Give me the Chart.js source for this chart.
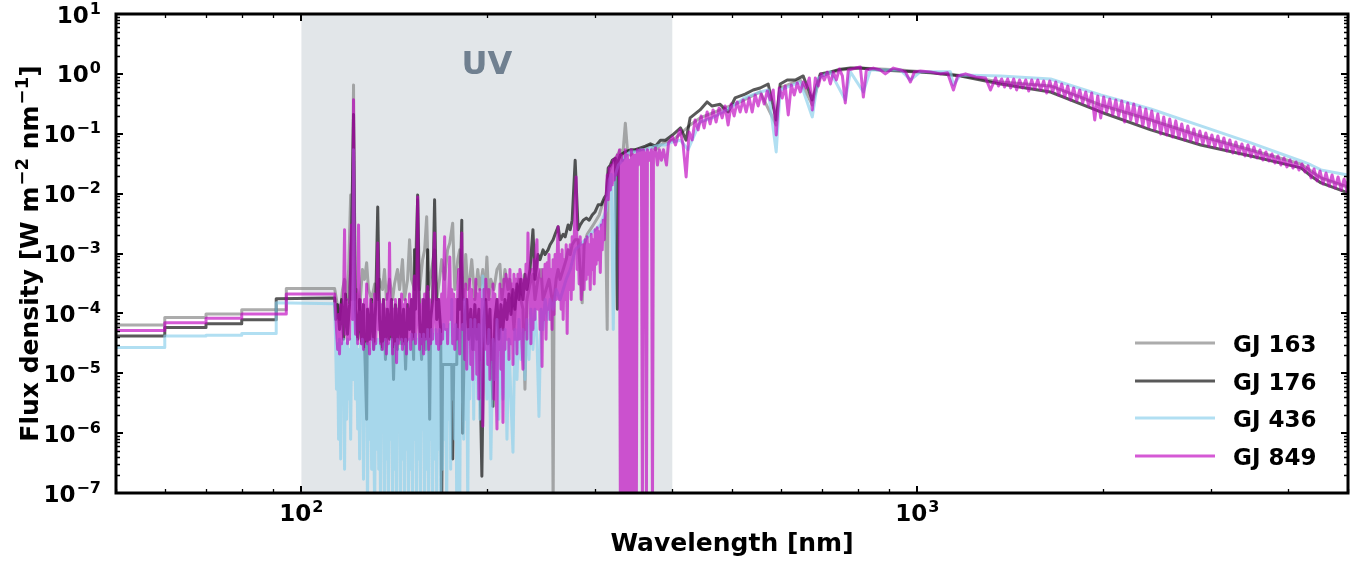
<!DOCTYPE html>
<html><head><meta charset="utf-8">
<script src="https://cdn.jsdelivr.net/npm/chart.js@4/dist/chart.umd.min.js"></script>
<style>html,body{margin:0;padding:0;background:#fff;}#wrap{width:1367px;height:563px;}</style>
</head><body><div id="wrap"><canvas id="c" width="1367" height="563"></canvas></div>
<script>
const seriesNames = ['GJ 163','GJ 176','GJ 436','GJ 849'];
const seriesColors = ['rgba(128,128,128,0.65)','rgba(0,0,0,0.65)','rgba(135,206,235,0.65)','rgba(191,0,191,0.65)'];
const xTicks = [100, 1000];
const yTicks = [1e-7,1e-6,1e-5,1e-4,1e-3,1e-2,1e-1,1e0,1e1];
const uvBand = [100, 400];
const uvLabel = 'UV';
const xTitle = 'Wavelength [nm]';
const yTitleParts = [['Flux density [W m',0],['\u22122',1],[' nm',0],['\u22121',1],[']',0]];

// [wavelength nm, flux W m^-2 nm^-1]
const gj163 = [
[50,6.4e-5],[60,6.4e-5],[60,8.5e-5],[70,8.5e-5],[70,9.8e-5],[80,9.8e-5],[80,1.15e-4],[94.5,1.15e-4],[94.5,2.6e-4],[113.2,2.6e-4],
[114.0,1.7e-4],[115.3,7.9e-5],[116.6,2.5e-4],[117.5,3.7e-4],[118.4,1.7e-4],[119.3,5.4e-4],[120.2,9.5e-3],[120.6,1.7e-4],[121.5,0.65],[122.0,1.7e-4],[122.9,2.5e-4],[124.3,1.17e-4],[125.6,5.4e-4],[126.6,3.7e-4],[127.6,7.0e-4],[128.5,2.5e-4],[130.0,1.7e-4],[131.5,3.1e-4],[133.0,1.7e-4],[133.9,3.7e-4],[135.4,2.5e-4],[136.4,5.4e-4],[137.4,1.7e-4],[139.0,3.7e-4],[140.6,1.7e-4],[141.6,3.1e-4],[143.2,5.4e-4],[144.3,2.5e-4],[145.9,7.9e-4],[147.0,1.7e-4],[148.7,3.7e-4],[149.8,1.7e-3],[150.9,3.7e-4],[152.6,2.5e-4],[154.4,7.9e-3],[155.5,2.5e-4],[157.3,7.9e-4],[158.5,1.15e-3],[159.7,4.1e-3],[160.9,2.5e-4],[162.7,5.4e-4],[164.5,1.15e-3],[165.8,1.7e-4],[167.6,3.7e-4],[168.9,7.9e-4],[170.8,3.7e-4],[172.7,1.15e-3],[174.1,1.5e-3],[176.0,3.2e-3],[177.4,2.5e-4],[179.4,7.9e-4],[180.7,1.15e-3],[182.1,3.7e-4],[183.4,1.7e-4],[184.8,9.6e-4],[186.2,2.5e-4],[187.6,3.7e-4],[189.0,7.9e-4],[191.2,1.7e-4],[193.3,5.4e-4],[194.8,2.5e-4],[197.0,5.4e-4],[198.5,1.7e-4],[200.0,8.7e-4],[201.5,1.7e-4],[203.0,3.7e-4],[205.3,2.5e-4],[207.7,5.4e-4],[210.0,6.6e-4],[211.6,1.7e-4],[214.0,5.4e-4],[216.4,2.5e-4],[218.0,3.7e-4],[219.7,1.7e-4],[221.3,5.4e-5],[222.9,1.7e-4],[225.5,3.7e-4],[227.1,1.7e-4],[228.9,1.17e-4],[230.6,5.4e-6],[232.3,1.7e-4],[235.0,3.1e-4],[237.6,4.5e-4],[239.4,1.7e-4],[242.1,3.7e-4],[244.9,5.4e-4],[246.7,1.7e-4],[249.5,2.5e-4],[252.3,3.7e-4],[255.2,1.7e-4],[256.2,5e-8],[257.1,1.7e-4],[259.1,3.7e-4],[261.0,5.4e-4],[263.0,3.7e-4],[266.0,5.4e-4],[269.0,7.9e-4],[271.0,1.15e-3],[273.1,9.6e-4],[275.1,1.4e-3],[278.2,1.7e-3],[281.3,1.7e-3],[283.5,5.4e-4],[285.6,1.5e-4],[287.7,1.4e-3],[291.0,2.1e-3],[294.3,2.5e-3],[297.6,3.0e-3],[300.9,3.6e-3],[304.4,4.4e-3],[307.8,6.5e-3],[311.3,7.9e-3],[313.6,5.4e-5],[314.8,0.021],[318.4,0.030],[322.0,0.036],[325.7,0.044],[329.4,0.054],[331.9,0.036],[335.6,0.15],[338.2,0.054],[342.0,0.044],[348.4,0.054],[355.1,0.054],[361.8,0.058],[368.6,0.065],[375.6,0.054],[382.7,0.065],[389.9,0.073],[400.3,0.078],[412.5,0.10],
[427.5,0.140],[443.7,0.184],[478.3,0.250],[515.4,0.34],[555.5,0.498],[589.8,0.140],[598.7,0.581],[645.3,0.791],[675.0,0.302],[695.5,0.923],[749.8,1.16],[807.8,1.25],[938.4,1.16],[1131,1.00],[1365,0.732],[1645,0.628],[1984,0.302],[2392,0.170],[2884,0.0919],[3478,0.0536],[4194,0.0313],[4520,0.0183],[5000,0.0129]
];

const gj176 = [
[50,4.2e-5],[60,4.2e-5],[60,5.8e-5],[70,5.8e-5],[70,6.7e-5],[80,6.7e-5],[80,7.8e-5],[91,7.8e-5],[91,1.75e-4],[113.2,1.8e-4],
[113.6,7.9e-5],[114.5,1.4e-4],[115.3,5.4e-5],[116.2,1.7e-4],[117.1,3.7e-5],[117.9,2.1e-4],[118.8,4.5e-5],[119.7,1.4e-4],[120.6,1.7e-3],[121.5,0.21],[122.4,1.17e-4],[123.4,3.7e-5],[124.3,1.7e-4],[125.2,3.1e-5],[126.1,1.4e-4],[127.1,7.9e-6],[127.6,1.7e-6],[128.0,1.17e-4],[129.0,3.7e-5],[130.0,1.7e-4],[131.0,2.5e-5],[132.0,1.4e-4],[133.0,6.0e-3],[133.9,7.9e-5],[134.9,2.5e-5],[135.9,1.7e-4],[136.9,1.7e-5],[137.9,1.17e-4],[139.0,3.7e-5],[140.0,1.7e-4],[141.1,7.9e-6],[142.1,1.4e-4],[143.2,2.5e-5],[144.3,1.7e-4],[145.4,3.1e-5],[146.5,1.17e-4],[147.6,1.17e-5],[148.7,1.4e-4],[149.8,5.4e-5],[150.9,1.7e-4],[152.1,1.7e-5],[152.6,1.15e-3],[153.2,1.17e-4],[154.4,9.5e-3],[155.5,7.9e-5],[156.7,1.7e-5],[157.9,1.7e-4],[159.1,2.5e-5],[160.3,1.15e-3],[160.9,5.4e-5],[161.5,1.7e-6],[162.1,7.9e-5],[163.3,1.7e-4],[164.5,7.9e-3],[165.8,7.9e-5],[167.0,1.7e-4],[168.3,5.4e-5],[168.9,5e-8],[169.5,1.4e-5],[175.4,1.4e-5],[176.0,3.7e-7],[176.7,1.4e-5],[178.7,1.4e-5],[179.4,1.7e-4],[180.7,1.17e-4],[182.1,3.6e-3],[182.7,1.0e-6],[184.1,7.9e-5],[185.5,1.7e-4],[186.9,3.7e-5],[188.3,1.17e-4],[189.7,2.5e-5],[191.2,1.4e-4],[192.6,3.7e-5],[194.1,1.17e-4],[196.3,1.9e-7],[197.8,7.9e-5],[199.2,1.7e-4],[200.7,3.1e-5],[202.3,1.17e-4],[204.6,2.8e-6],[206.1,7.9e-5],[207.7,1.7e-4],[209.2,3.7e-5],[210.8,1.4e-4],[212.4,5.4e-5],[214.0,1.7e-4],[215.6,7.9e-5],[217.2,2.1e-4],[218.8,9.6e-5],[220.5,2.5e-4],[222.1,1.17e-4],[223.8,3.1e-4],[225.5,1.7e-4],[227.1,3.7e-4],[228.9,1.7e-4],[230.6,4.5e-4],[232.3,2.5e-4],[235.0,5.4e-4],[237.6,2.5e-3],[239.4,3.7e-4],[242.1,9.6e-4],[244.0,7.9e-4],[246.7,1.15e-3],[248.6,9.6e-4],[251.4,1.15e-3],[253.3,1.4e-3],[256.2,1.7e-3],[258.1,2.1e-3],[261.0,2.8e-3],[263.0,1.7e-3],[266.0,2.1e-3],[268.0,1.9e-3],[271.0,3.0e-3],[273.1,2.5e-3],[275.1,3.6e-3],[278.2,0.036],[281.3,2.5e-3],[283.5,3.0e-3],[286.7,3.6e-3],[289.9,3.9e-3],[293.2,3.6e-3],[296.5,4.4e-3],[299.8,5.0e-3],[303.2,6.5e-3],[306.7,6.5e-3],[310.2,8.5e-3],[312.5,9.5e-3],[314.8,0.027],[317.3,0.030],[319.6,0.036],[323.3,0.039],[325.7,1.17e-4],[326.9,0.036],[329.4,0.044],[335.6,0.050],[342.0,0.054],[348.4,0.054],[355.1,0.058],[361.8,0.062],[368.6,0.068],[375.6,0.062],[382.7,0.078],[389.9,0.078],[400.3,0.095],[412.5,0.125],
[421.1,0.078],[427.5,0.184],[443.7,0.250],[455.5,0.34],[464.2,0.29],[478.3,0.31],[492.8,0.231],[505.8,0.396],[525.2,0.46],[541.1,0.538],[555.5,0.581],[572.4,0.678],[589.8,0.170],[598.7,0.678],[614.6,0.791],[633.3,0.791],[652.5,0.923],[675.0,0.367],[695.5,1.0],[722.2,1.08],[749.8,1.2],[778.3,1.25],[807.8,1.25],[870.7,1.16],[938.4,1.12],[1050,1.04],[1175,0.923],[1365,0.678],[1645,0.498],[1984,0.231],[2392,0.116],[2884,0.065],[3478,0.0426],[4194,0.0269],[4354,0.0197],[4520,0.0151],[5000,0.0103]
];

const gj436 = [
[50,2.7e-5],[60,2.7e-5],[60,4.2e-5],[70,4.2e-5],[70,4.3e-5],[80,4.3e-5],[80,4.6e-5],[91,4.6e-5],[91,1.5e-4],[113.2,1.45e-4],
[113.6,3.7e-5],[114.0,5.4e-6],[114.5,3.1e-5],[114.9,7.9e-7],[115.3,3.7e-5],[115.8,3.7e-7],[116.2,3.1e-5],[116.6,7.9e-6],[117.1,3.7e-5],[117.5,2.5e-7],[117.9,3.1e-5],[118.4,1.7e-6],[118.8,3.7e-5],[119.3,3.7e-6],[119.7,2.5e-5],[120.2,7.9e-7],[120.6,3.7e-5],[121.1,7.9e-6],[121.5,0.054],[122.0,3.1e-5],[122.4,3.7e-6],[122.9,3.7e-5],[123.4,1.17e-6],[123.8,2.5e-5],[124.3,3.7e-7],[124.7,3.1e-5],[125.2,2.5e-6],[125.6,3.7e-5],[126.1,1.7e-7],[126.6,2.5e-5],[127.1,1.7e-6],[127.6,3.1e-5],[128.0,5e-8],[128.5,3.1e-5],[129.0,7.9e-7],[129.5,2.5e-5],[130.0,2.5e-7],[130.5,3.7e-5],[131.0,1.17e-6],[131.5,5e-8],[132.0,3.1e-5],[132.5,5.4e-7],[133.0,3.7e-5],[133.5,2.5e-7],[133.9,3.1e-5],[134.4,5e-8],[134.9,2.5e-5],[135.4,1.17e-6],[135.9,3.1e-5],[136.4,5e-8],[136.9,3.7e-5],[137.4,3.7e-7],[137.9,2.5e-5],[138.4,5e-8],[139.0,3.1e-5],[139.5,7.9e-7],[140.0,3.7e-5],[140.6,5e-8],[141.1,2.5e-5],[141.6,2.5e-7],[142.1,3.1e-5],[142.7,5e-8],[143.2,3.7e-5],[143.7,1.17e-6],[144.3,2.5e-5],[144.8,5e-8],[145.4,3.7e-5],[145.9,3.7e-7],[146.5,3.1e-5],[147.0,5e-8],[147.6,3.7e-5],[148.1,5.4e-7],[148.7,3.1e-5],[149.2,5e-8],[149.8,3.7e-5],[150.4,2.5e-7],[150.9,4.5e-5],[151.5,5e-8],[152.1,3.7e-5],[152.6,7.9e-7],[153.2,4.5e-5],[153.8,5e-8],[154.4,3.7e-5],[154.9,3.7e-7],[155.5,4.5e-5],[156.1,5e-8],[156.7,3.7e-5],[157.3,1.17e-6],[157.9,4.5e-5],[158.5,5e-8],[159.1,3.7e-5],[159.7,2.5e-7],[160.3,5.4e-5],[160.9,5e-8],[161.5,3.7e-5],[162.1,7.9e-7],[162.7,5.4e-5],[163.3,5e-8],[163.9,4.5e-5],[164.5,3.7e-7],[165.2,5.4e-5],[165.8,5e-8],[166.4,4.5e-5],[167.0,5.4e-7],[167.6,5.4e-5],[168.3,5e-8],[168.9,4.5e-5],[169.5,2.5e-7],[170.2,6.5e-5],[170.8,7.9e-7],[171.4,5.4e-5],[172.1,5e-8],[172.7,5.4e-5],[173.4,1.7e-6],[174.1,6.5e-5],[174.7,2.5e-7],[175.4,1.7e-4],[176.0,3.7e-6],[176.7,5.4e-5],[177.4,7.9e-7],[178.0,6.5e-5],[178.7,5e-8],[179.4,5.4e-5],[180.0,1.7e-6],[180.7,5e-8],[181.4,5.4e-5],[182.1,3.7e-6],[182.7,6.5e-5],[183.4,7.9e-7],[184.1,1.7e-4],[184.8,1.7e-6],[185.5,5.4e-5],[186.2,5e-8],[186.9,5.4e-5],[187.6,3.7e-6],[188.3,7.9e-5],[189.0,7.9e-6],[189.7,5.4e-5],[190.4,1.7e-6],[191.2,7.9e-5],[191.9,7.9e-6],[192.6,5.4e-5],[193.3,3.7e-6],[194.1,6.5e-5],[194.8,1.7e-6],[196.3,5.4e-5],[197.0,4.2e-4],[198.5,3.7e-5],[200.0,3.7e-6],[201.5,5.4e-5],[203.0,3.7e-7],[204.6,3.7e-5],[206.1,7.9e-6],[207.7,7.9e-5],[209.2,1.7e-6],[210.8,5.4e-5],[212.4,3.7e-6],[214.0,5.4e-5],[215.6,7.9e-7],[217.2,3.7e-5],[218.8,3.7e-6],[220.5,4.8e-7],[222.1,5.4e-5],[223.8,7.9e-6],[225.5,7.9e-5],[227.1,1.7e-5],[228.9,5.4e-5],[230.6,7.9e-6],[232.3,7.9e-5],[234.1,1.7e-5],[235.8,1.17e-4],[237.6,2.5e-5],[239.4,1.17e-4],[241.2,3.7e-5],[243.0,1.9e-6],[244.9,1.17e-4],[246.7,5.4e-5],[248.6,1.7e-4],[251.4,7.9e-5],[253.3,1.7e-4],[256.2,1.17e-4],[259.1,2.5e-4],[263.0,1.7e-4],[266.0,2.5e-4],[269.0,3.7e-4],[273.1,5.4e-4],[278.2,1.15e-3],[283.5,1.4e-3],[288.8,1.7e-3],[294.3,2.1e-3],[299.8,2.5e-3],[305.6,3.0e-3],[310.2,4.4e-3],[312.5,5.3e-3],[316.0,0.017],[318.4,0.021],[320.8,5.4e-5],[323.3,0.021],[326.9,0.030],[331.9,0.036],[336.9,0.044],[342.0,0.050],[348.4,0.050],[355.1,0.054],[361.8,0.054],[368.6,0.058],[375.6,0.062],[382.7,0.065],[389.9,0.065],[400.3,0.073],[412.5,0.078],
[424.3,0.054],[443.7,0.157],[464.2,0.184],[496.5,0.270],[523.2,0.396],[555.5,0.498],[572.4,0.538],[589.8,0.0497],[598.7,0.538],[621.6,0.628],[645.3,0.732],[675.0,0.191],[690.2,0.854],[722.2,1.08],[763.6,0.367],[778.3,1.08],[817.0,0.498],[838.7,1.16],[938.4,1.16],[974.1,0.791],[1011,1.08],[1131,1.08],[1144,0.653],[1175,0.96],[1365,0.923],[1645,0.822],[1984,0.444],[2392,0.259],[2884,0.135],[3478,0.0702],[4194,0.0351],[4354,0.0301],[4520,0.0249],[5000,0.0205]
];

const gj849 = [
[50,5.2e-5],[60,5.2e-5],[60,7.0e-5],[70,7.0e-5],[70,8.3e-5],[80,8.3e-5],[80,9.8e-5],[94.5,9.8e-5],[94.5,2.1e-4],[113.2,2.1e-4],
[113.6,1.17e-4],[114.0,5.4e-5],[114.5,2.5e-5],[114.9,9.6e-5],[115.3,2.1e-5],[115.8,1.4e-4],[116.2,3.1e-5],[116.6,7.9e-5],[117.1,2.5e-4],[117.5,2.5e-3],[117.9,4.5e-5],[118.4,1.7e-4],[118.8,3.1e-5],[119.3,1.4e-4],[119.7,3.7e-5],[120.2,1.15e-3],[120.6,3.0e-3],[121.1,7.9e-5],[121.5,0.37],[122.0,1.7e-4],[122.4,4.5e-5],[122.9,2.1e-4],[123.4,3.1e-5],[123.8,3.0e-3],[124.3,5.4e-5],[124.7,1.7e-4],[125.2,3.1e-5],[125.6,1.4e-4],[126.1,2.5e-5],[126.6,1.7e-4],[127.1,3.7e-5],[127.6,3.1e-4],[128.0,3.1e-5],[128.5,1.17e-4],[129.0,2.1e-5],[129.5,1.7e-4],[130.0,3.7e-5],[130.5,1.4e-4],[131.0,2.5e-5],[131.5,2.1e-4],[132.0,3.1e-5],[132.5,1.17e-4],[133.0,1.5e-3],[133.5,5.4e-5],[133.9,1.7e-4],[134.4,3.1e-5],[134.9,1.4e-4],[135.4,2.5e-5],[135.9,1.7e-4],[136.4,3.7e-5],[136.9,1.17e-4],[137.4,2.1e-5],[137.9,2.1e-4],[138.4,3.1e-5],[139.0,1.5e-3],[139.5,4.5e-5],[140.0,1.7e-4],[140.6,2.1e-5],[141.1,1.17e-4],[141.6,3.1e-5],[142.1,1.7e-4],[142.7,1.5e-5],[143.2,1.17e-4],[143.7,3.1e-5],[144.3,1.7e-4],[144.8,3.7e-5],[145.4,2.1e-4],[145.9,2.5e-5],[146.5,1.4e-4],[147.0,3.1e-5],[147.6,1.7e-4],[148.1,2.1e-5],[148.7,1.17e-4],[149.2,3.7e-5],[149.8,2.1e-4],[150.4,2.5e-5],[150.9,1.7e-4],[151.5,3.7e-5],[152.1,2.5e-4],[152.6,4.2e-4],[153.2,3.1e-5],[153.8,1.4e-4],[154.4,8.8e-3],[154.9,1.7e-4],[155.5,2.5e-5],[156.1,1.4e-4],[156.7,3.1e-5],[157.3,1.7e-4],[157.9,2.1e-5],[158.5,2.1e-4],[159.1,3.7e-5],[159.7,1.7e-4],[160.3,2.8e-4],[160.9,2.5e-5],[161.5,1.7e-4],[162.1,3.1e-5],[162.7,1.4e-4],[163.3,3.7e-5],[163.9,7.9e-4],[164.5,2.2e-3],[165.2,7.9e-5],[165.8,3.1e-5],[166.4,1.7e-4],[167.0,2.5e-5],[167.6,1.7e-4],[168.3,3.1e-5],[168.9,2.1e-4],[169.5,3.7e-5],[170.2,4.5e-4],[170.8,1.9e-3],[171.4,5.4e-5],[172.1,1.7e-4],[172.7,3.1e-5],[173.4,2.5e-4],[174.1,8.7e-4],[174.7,7.9e-5],[175.4,2.5e-4],[176.0,3.1e-5],[176.7,2.1e-4],[177.4,2.5e-5],[178.0,1.7e-4],[178.7,3.7e-5],[179.4,2.5e-4],[180.0,5.4e-4],[180.7,2.1e-5],[181.4,3.7e-4],[182.1,2.2e-3],[182.7,5.4e-5],[183.4,2.5e-4],[184.1,1.7e-5],[184.8,3.1e-4],[185.5,1.17e-5],[186.2,1.7e-4],[186.9,3.7e-5],[187.6,3.7e-4],[188.3,1.4e-5],[189.0,2.5e-4],[189.7,7.9e-6],[190.4,1.7e-4],[191.2,2.5e-5],[191.9,3.7e-4],[192.6,9.6e-6],[193.3,2.1e-4],[194.1,3.7e-6],[194.8,2.5e-4],[195.5,1.7e-5],[196.3,1.7e-4],[197.0,1.3e-6],[197.8,2.5e-4],[198.5,2.5e-5],[199.2,3.7e-4],[200.0,1.5e-4],[200.7,1.4e-5],[201.5,2.5e-4],[202.3,7.9e-6],[203.0,1.7e-4],[203.8,1.7e-5],[204.6,3.1e-4],[205.3,3.7e-6],[206.1,2.1e-4],[206.9,7.9e-6],[207.7,1.17e-6],[208.4,1.7e-4],[209.2,2.5e-5],[210.0,3.1e-4],[210.8,1.17e-5],[211.6,2.5e-4],[212.4,1.5e-6],[213.2,3.7e-4],[214.0,2.5e-5],[214.8,4.5e-4],[215.6,3.7e-5],[216.4,3.7e-4],[217.2,1.7e-5],[218.0,5.4e-4],[218.8,3.1e-5],[219.7,3.1e-4],[220.5,1.4e-5],[221.3,4.5e-4],[222.1,3.7e-5],[222.9,3.7e-4],[223.8,2.1e-5],[224.6,4.5e-4],[225.5,3.7e-5],[226.3,5.4e-4],[227.1,4.2e-4],[228.0,3.1e-5],[228.9,1.17e-5],[229.7,3.7e-4],[230.6,5.4e-5],[231.5,6.6e-4],[232.3,3.7e-5],[233.2,2.2e-3],[234.1,1.7e-4],[235.0,4.5e-4],[235.8,3.1e-5],[236.7,5.4e-4],[237.6,5.4e-5],[238.5,7.9e-4],[239.4,7.9e-5],[240.3,1.15e-3],[241.2,1.7e-3],[242.1,1.17e-4],[243.0,5.4e-4],[244.0,5.4e-5],[244.9,3.7e-4],[245.8,1.3e-5],[246.7,5.4e-4],[247.6,7.9e-5],[248.6,6.6e-4],[249.5,3.7e-5],[250.5,7.0e-4],[251.4,1.17e-4],[252.3,9.6e-4],[253.3,7.9e-5],[254.2,5.4e-4],[255.2,5.4e-5],[256.2,7.9e-4],[257.1,9.6e-5],[258.1,9.6e-4],[259.1,1.7e-4],[260.0,7.9e-4],[261.0,2.8e-3],[262.0,1.7e-4],[263.0,9.6e-4],[264.0,1.17e-4],[265.0,1.15e-3],[266.0,7.9e-5],[267.0,7.9e-4],[268.0,1.7e-4],[269.0,1.4e-3],[270.0,4.6e-5],[271.0,1.15e-3],[272.1,2.5e-4],[273.1,1.4e-3],[274.1,1.7e-4],[275.1,1.9e-3],[276.2,2.5e-4],[277.2,1.7e-3],[278.2,7.9e-3],[279.2,0.019],[280.3,5.4e-4],[281.3,1.7e-3],[282.4,3.1e-4],[283.5,1.9e-3],[284.5,1.7e-4],[285.6,3.3e-4],[286.7,1.4e-3],[287.7,2.5e-4],[288.8,1.7e-3],[289.9,3.7e-4],[291.0,1.9e-3],[292.1,4.5e-4],[293.2,1.4e-3],[294.3,2.5e-4],[295.4,2.1e-3],[296.5,5.4e-4],[297.6,1.7e-3],[298.7,3.1e-4],[299.8,2.5e-3],[300.9,6.6e-4],[302.1,2.7e-3],[303.2,7.9e-4],[304.4,2.3e-3],[305.6,4.8e-4],[306.7,3.0e-3],[307.8,1.15e-3],[309.0,3.6e-3],[310.2,1.7e-3],[311.3,4.8e-3],[312.5,9.5e-3],[313.6,0.0205],[314.8,7.9e-3],[316.0,0.0268],[317.3,0.0115],[318.4,0.0301],[319.6,0.0140],[320.8,0.0365],[322.0,0.0169],[323.3,0.0394],[324.5,0.0205],[325.7,0.0443],[326.9,0.0248],[328.2,0.0536],
[329.4,5e-8],[330.7,0.044],[331.9,5e-8],[333.2,0.036],[334.4,5e-8],[335.6,0.054],[336.9,5e-8],[338.2,0.044],[339.4,5e-8],[340.7,0.036],[342.0,5e-8],[343.3,0.054],[344.5,5e-8],[345.8,0.044],[347.1,5e-8],[348.4,0.044],[349.7,5e-8],[351.0,0.054],[352.3,0.030],[355.1,0.054],[356.4,0.036],[357.7,5e-8],[359.0,0.054],[361.8,0.044],[363.1,5e-8],[364.5,0.054],[367.2,0.036],[370.0,0.054],[371.4,5e-8],[372.8,0.044],[375.6,0.058],[378.4,0.030],[381.2,0.054],[384.1,0.036],[387.0,0.054],[391.4,0.030],[394.3,0.070],[397.3,0.078],[400.3,0.088],[404.8,0.065],[408.7,0.095],
[411.8,0.116],[416.5,0.0650],[421.2,0.0190],[425.9,0.107],[430.7,0.0788],[435.6,0.170],[440.5,0.116],[445.5,0.198],[450.5,0.125],[455.6,0.231],[460.7,0.146],[465.9,0.250],[471.2,0.157],[476.5,0.270],[481.9,0.184],[487.3,0.291],[492.8,0.140],[498.4,0.314],[504.0,0.198],[509.7,0.340],[515.5,0.231],[521.3,0.367],[527.2,0.231],[533.2,0.396],[539.2,0.231],[545.3,0.444],[551.4,0.291],[557.7,0.462],[564.0,0.314],[570.3,0.518],[576.8,0.367],[583.3,0.539],[589.9,0.0955],[596.6,0.582],[603.3,0.396],[610.1,0.628],[617.0,0.206],[624.0,0.653],[631.1,0.444],[638.2,0.705],[645.4,0.499],[652.7,0.732],[660.1,0.582],[667.5,0.854],[675.1,0.250],[682.7,0.854],[690.4,0.628],[698.2,1.00],[706.1,0.791],[714.1,1.07],[722.2,0.678],[730.3,1.07],[738.6,0.791],[746.9,1.21],[755.4,0.923],
[763.6,0.327],[772.3,1.16],[792.9,1.25],[807.8,1.30],[817.0,0.411],[826.2,1.16],[848.1,1.25],[870.7,1.16],[887.0,1.00],[914.1,1.25],[938.4,1.16],[956.1,1.08],[974.1,0.732],[988.8,1.08],[1011,1.12],[1050,1.08],[1090,1.00],[1119,1.04],[1144,0.538],[1162,0.923],[1197,1.00],[1243,0.888],[1290,0.854],[1314,0.538],
[1339,0.854],[1354,0.628],[1370,0.822],[1385,0.604],[1401,0.822],[1417,0.582],[1433,0.822],[1449,0.539],[1465,0.791],[1482,0.582],[1499,0.791],[1516,0.518],[1533,0.791],[1550,0.560],[1568,0.791],[1585,0.539],[1603,0.761],[1621,0.480],[1640,0.761],[1658,0.499],[1677,0.732],[1696,0.444],[1715,0.678],[1734,0.411],[1754,0.628],[1773,0.367],[1793,0.582],[1814,0.353],[1834,0.539],[1855,0.327],[1876,0.499],[1897,0.291],[1918,0.480],[1940,0.170],[1962,0.428],[1984,0.184],[2006,0.411],[2029,0.231],[2052,0.381],[2075,0.206],[2099,0.367],[2122,0.198],[2146,0.353],[2170,0.157],[2195,0.327],[2220,0.170],[2245,0.314],[2270,0.151],[2296,0.280],[2322,0.135],[2348,0.259],[2374,0.130],[2401,0.240],[2428,0.116],[2456,0.214],[2483,0.0992],[2511,0.191],[2540,0.0955],[2568,0.177],[2597,0.0884],[2627,0.164],[2656,0.0851],[2686,0.146],[2717,0.0788],[2747,0.135],[2778,0.0758],[2810,0.120],[2842,0.0702],[2874,0.111],[2906,0.0676],[2939,0.103],[2972,0.0626],[3006,0.0955],[3040,0.0602],[3074,0.0919],[3109,0.0557],[3144,0.0851],[3179,0.0516],[3215,0.0788],[3252,0.0478],[3288,0.0730],[3326,0.0460],[3363,0.0676],[3401,0.0426],[3440,0.0650],[3478,0.0410],[3518,0.0602],[3558,0.0394],[3598,0.0536],[3638,0.0365],[3679,0.0497],[3721,0.0351],[3763,0.0460],[3805,0.0325],[3848,0.0426],[3892,0.0301],[3936,0.0394],[3980,0.0279],[4025,0.0365],[4071,0.0268],[4117,0.0338],[4163,0.0248],[4210,0.0313],[4258,0.0230],[4306,0.0290],[4355,0.0183],[4404,0.0258],[4454,0.0163],[4504,0.0239],[4555,0.0145],[4607,0.0221],[4659,0.0134],[4711,0.0205],[4764,0.0124],[4818,0.0190],[4873,0.0115],[4928,0.0176],[4983,0.0107],[5000,0.0163]
];

const seriesData = [gj163, gj176, gj436, gj849];
const drawOrder = [3, 2, 1, 0];

const FONT = '"DejaVu Sans", sans-serif';
function toXY(arr){ return arr.map(p => ({x: p[0], y: p[1]})); }

function drawPow(ctx, v, x, baseline, align, size){
  const e = Math.round(Math.log10(v));
  const b = '10', s = (e < 0 ? '\u2212' : '') + Math.abs(e);
  const ss = Math.round(size * 0.7);
  ctx.font = 'bold ' + size + 'px ' + FONT; const wb = ctx.measureText(b).width;
  ctx.font = 'bold ' + ss + 'px ' + FONT; const ws = ctx.measureText(s).width;
  const x0 = align === 'right' ? x - wb - ws - 1 : x - (wb + ws + 1) / 2;
  ctx.textAlign = 'left'; ctx.textBaseline = 'alphabetic';
  ctx.font = 'bold ' + size + 'px ' + FONT; ctx.fillText(b, x0, baseline);
  ctx.font = 'bold ' + ss + 'px ' + FONT; ctx.fillText(s, x0 + wb + 1, baseline - Math.round(size * 0.4));
}

const decor = {
  id: 'decor',
  beforeDatasetsDraw(chart){
    const {ctx, chartArea: a, scales: {x}} = chart;
    ctx.save();
    const x0 = x.getPixelForValue(uvBand[0]), x1 = x.getPixelForValue(uvBand[1]);
    ctx.fillStyle = 'rgba(112,128,144,0.2)';
    ctx.fillRect(x0, a.top, x1 - x0, a.bottom - a.top);
    ctx.fillStyle = '#708090';
    ctx.font = 'bold 32px ' + FONT;
    ctx.textAlign = 'center'; ctx.textBaseline = 'alphabetic';
    ctx.fillText(uvLabel, x.getPixelForValue(Math.sqrt(uvBand[0] * uvBand[1])), 74);
    ctx.restore();
  },
  afterDraw(chart){
    const {ctx, chartArea: a, scales: {x, y}} = chart;
    ctx.save();
    ctx.strokeStyle = '#000'; ctx.fillStyle = '#000';
    ctx.lineWidth = 1.3;
    ctx.beginPath();
    for (let d = 10; d <= 1000; d *= 10) for (let k = 2; k <= 9; k++) {
      const v = k * d; if (v < 50 || v > 5000) continue;
      const px = Math.round(x.getPixelForValue(v)) + 0.5;
      ctx.moveTo(px, a.bottom); ctx.lineTo(px, a.bottom - 4);
      ctx.moveTo(px, a.top); ctx.lineTo(px, a.top + 4);
    }
    for (let e = -7; e < 1; e++) for (let k = 2; k <= 9; k++) {
      const v = k * Math.pow(10, e);
      const py = Math.round(y.getPixelForValue(v)) + 0.5;
      ctx.moveTo(a.left, py); ctx.lineTo(a.left + 4, py);
      ctx.moveTo(a.right, py); ctx.lineTo(a.right - 4, py);
    }
    ctx.stroke();
    ctx.lineWidth = 2;
    ctx.beginPath();
    xTicks.forEach(v => { const px = Math.round(x.getPixelForValue(v));
      ctx.moveTo(px, a.bottom); ctx.lineTo(px, a.bottom - 7);
      ctx.moveTo(px, a.top); ctx.lineTo(px, a.top + 7); });
    yTicks.forEach(v => { const py = Math.round(y.getPixelForValue(v));
      ctx.moveTo(a.left, py); ctx.lineTo(a.left + 7, py);
      ctx.moveTo(a.right, py); ctx.lineTo(a.right - 7, py); });
    ctx.stroke();
    ctx.lineWidth = 3;
    ctx.strokeRect(a.left, a.top, a.right - a.left, a.bottom - a.top);
    xTicks.forEach(v => drawPow(ctx, v, x.getPixelForValue(v), 521, 'center', 23));
    yTicks.forEach(v => drawPow(ctx, v, 101, y.getPixelForValue(v) + 8.5, 'right', 23));
    ctx.font = 'bold 25px ' + FONT; ctx.textAlign = 'center'; ctx.textBaseline = 'alphabetic';
    ctx.fillText(xTitle, (a.left + a.right) / 2, 551);
    ctx.save();
    ctx.translate(38, (a.top + a.bottom) / 2);
    ctx.rotate(-Math.PI / 2);
    const bs = 25, ss = 18;
    let tot = 0;
    yTitleParts.forEach(p => { ctx.font = 'bold ' + (p[1] ? ss : bs) + 'px ' + FONT; tot += ctx.measureText(p[0]).width + (p[1] ? 1 : 0); });
    let cx = -tot / 2;
    ctx.textAlign = 'left';
    yTitleParts.forEach(p => { ctx.font = 'bold ' + (p[1] ? ss : bs) + 'px ' + FONT;
      ctx.fillText(p[0], cx + (p[1] ? 1 : 0), p[1] ? -10 : 0);
      cx += ctx.measureText(p[0]).width + (p[1] ? 1 : 0); });
    ctx.restore();
    const ly = [343, 381, 418, 456];
    seriesNames.forEach((n, i) => {
      ctx.strokeStyle = seriesColors[i]; ctx.lineWidth = 3;
      ctx.beginPath(); ctx.moveTo(1135, ly[i]); ctx.lineTo(1215, ly[i]); ctx.stroke();
      ctx.fillStyle = '#000'; ctx.font = 'bold 23px ' + FONT; ctx.textAlign = 'left'; ctx.textBaseline = 'alphabetic';
      ctx.fillText(n, 1233, ly[i] + 8.5);
    });
    ctx.restore();
  }
};

new Chart(document.getElementById('c'), {
  type: 'line',
  data: {
    datasets: seriesData.map((d, i) => ({
      label: seriesNames[i], data: toXY(d), borderColor: seriesColors[i],
      borderWidth: 3, pointRadius: 0, tension: 0, fill: false, clip: 0,
      borderJoinStyle: 'round', order: drawOrder[i]
    }))
  },
  options: {
    responsive: false, animation: false, devicePixelRatio: 1,
    layout: {padding: {left: 116, right: 19, top: 14, bottom: 70}},
    plugins: {legend: {display: false}, tooltip: {enabled: false}},
    scales: {
      x: {type: 'logarithmic', min: 50, max: 5000, display: false},
      y: {type: 'logarithmic', min: 1e-7, max: 10, display: false}
    }
  },
  plugins: [decor]
});
</script>
</body></html>
